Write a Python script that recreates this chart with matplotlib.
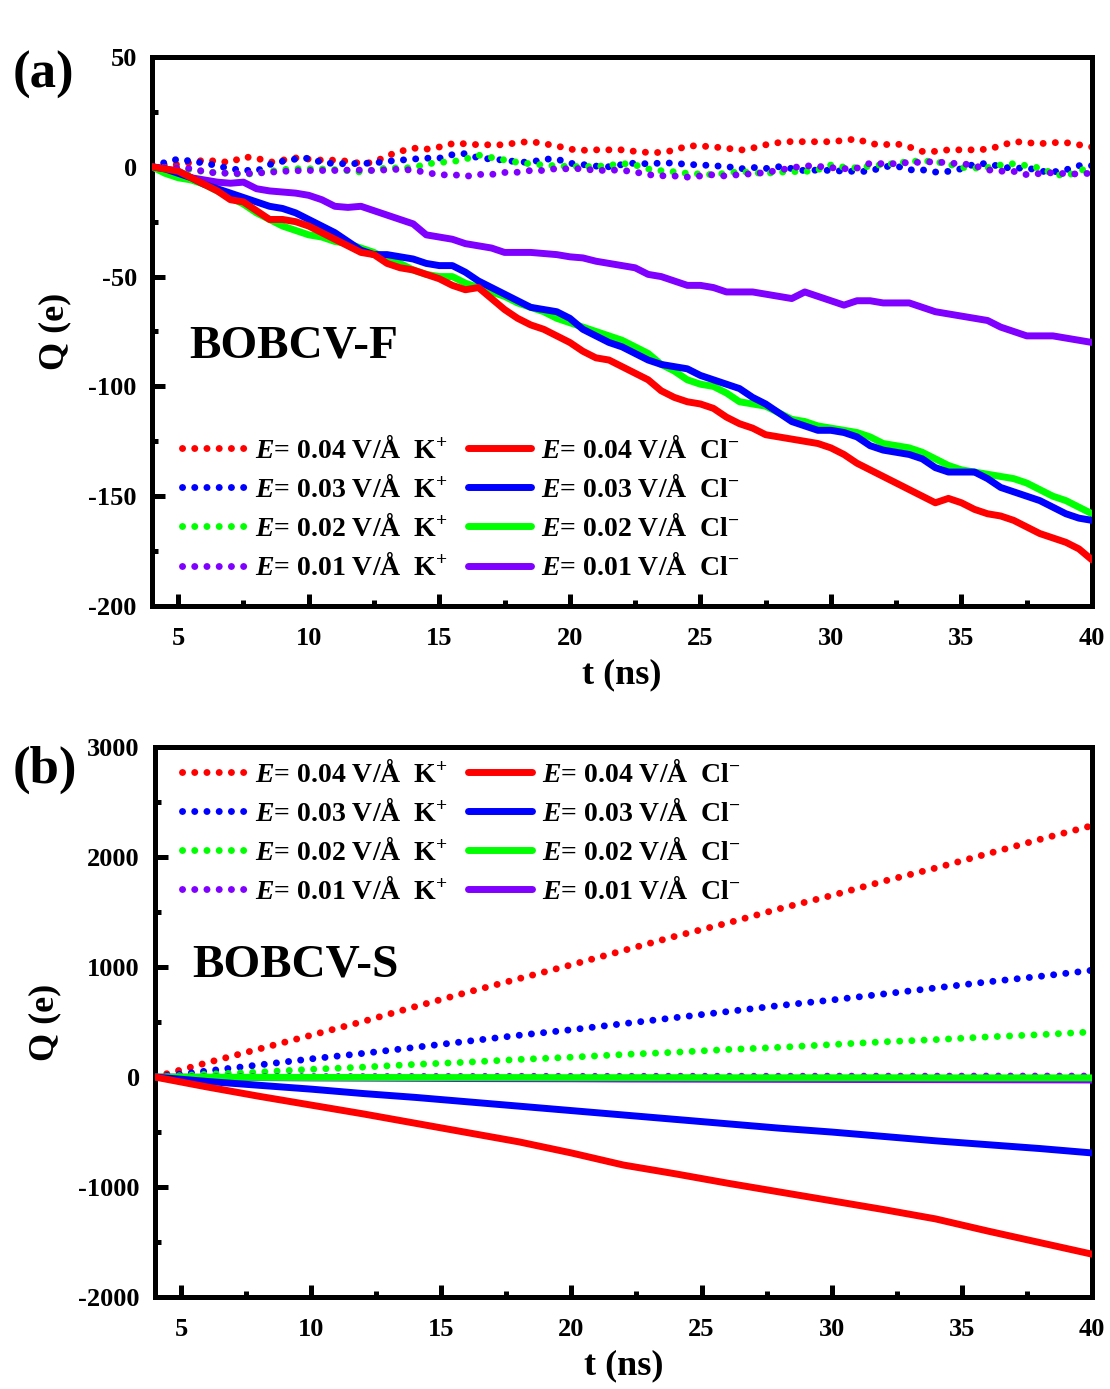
import numpy as np
import matplotlib
matplotlib.use("Agg")
import matplotlib.pyplot as plt
from matplotlib.ticker import MultipleLocator

plt.rcParams['font.family'] = 'Liberation Serif'
plt.rcParams['font.weight'] = 'bold'
plt.rcParams['axes.unicode_minus'] = False
plt.rcParams['mathtext.fontset'] = 'custom'
plt.rcParams['mathtext.rm'] = 'Liberation Serif:bold'
plt.rcParams['mathtext.bf'] = 'Liberation Serif:bold'
plt.rcParams['mathtext.it'] = 'Liberation Serif:italic:bold'

fields = ["0.04", "0.03", "0.02", "0.01"]
colors = ["#ff0000", "#0000ff", "#00ff00", "#8000ff"]

# ---- BOBCV-F : charge vs time, 0.5 ns sampling ----
t_f = np.arange(4.0, 40.01, 0.5)

k_f = {
    "0.04": [0, 1, 1, 2, 3, 2.5, 2, 4.5, 4, 2, 3, 4, 3.5, 3, 3, 2.5, 1.5, 2, 5, 7,
             8.5, 8, 9, 10.5, 10.5, 10, 10, 10, 11, 11.5, 10.5, 9.5, 8, 7.5, 7.7, 7.7, 7.7,
             7, 6.5, 6.5, 7.5, 9.5, 9.5, 9, 8.5, 7.5, 8.5, 10, 11, 11.5, 11.4, 11.4, 11.4,
             12, 12.7, 10.5, 10, 10.5, 9, 7, 7, 7.7, 7.7, 7.7, 8, 9.5, 11.5, 11, 10.5, 11,
             11, 10, 9],
    "0.03": [0, 2, 3.5, 2.5, 1.7, 0.5, -1, -1.5, -2, 1, 2.5, 3.5, 3.9, 2, 1.4, 1.4, 1.5,
             1.7, 2.5, 3, 3.5, 3.9, 3.9, 5.5, 6, 4, 3.5, 3, 2.2, 2, 3.5, 3.5, 1.6, 1, 0.3, 0,
             1, 1.7, 1.3, 1.7, 1.7, 1, 0.9, 0.4, 0.2, -1, -0.3, -0.8, 0, -0.8, -1.8, -1.5,
             -1.7, -2, -2.1, -2.1, 0, 0.4, -1.4, -1.4, -2.4, -2.1, -0.9, 1.2, 1.5, 0, -0.8,
             -0.4, -2, -2.4, -1.4, 0.5, 0.5],
    "0.02": [0, -0.3, -0.6, -1.5, -2.2, -2.7, -3, -3.5, -3, -2.1, -1.3, -0.9, -0.9, -1,
             -1.3, -1.8, -2.4, -1.5, -0.5, -0.6, -0.4, 1.2, 2, 2.3, 3.5, 5.3, 4.2, 3.1, 2,
             1.3, 0.8, 0.4, 0.1, 0.1, 0.1, 0.6, 1.5, 0.8, -1, -1.8, -2.3, -3, -3.3, -3.6,
             -2.9, -2.2, -2.7, -3, -2.5, -2.2, -2.2, -1.3, 0.8, -0.2, -0.5, 0.3, 1, 1.6,
             2.4, 2.7, 2.3, 1.2, -0.3, -0.6, -0.4, 0.8, 1.4, 0.5, -0.6, -3, -4.4, -1.7, -0.6],
    "0.01": [0, -0.3, -0.5, -0.8, -2.2, -2.9, -2.9, -3.2, -2.9, -2.5, -2.1, -1.8, -1.7,
             -1.7, -1.7, -1.5, -1.5, -1.7, -1.4, -1.1, -1.6, -2.5, -3.8, -3.5, -4.4, -3.5,
             -3.5, -2.6, -2.5, -1.7, -1.7, -0.8, -1, -0.8, -1.8, -1.5, -1.6, -2.4, -3.6,
             -4.1, -4.2, -4.7, -4.2, -3.6, -4.3, -3.5, -3.2, -2.6, -1.6, -0.5, 0.45, 0.2,
             -0.4, -0.9, -0.6, 1.6, 1.4, 1.4, 2, 2, 2.4, 1.6, 1.5, 0.5, -1.4, -2, -2.1,
             -3.6, -3.1, -2.7, -3.2, -3.3, -2.9],
}

cl_f = {
    "0.04": [0, -1, -2, -5, -8, -11, -15, -16, -20, -24, -24, -25, -27, -30, -33, -36,
             -39, -40, -44, -46, -47, -49, -51, -54, -56, -55, -60, -65, -69, -72, -74,
             -77, -80, -84, -87, -88, -91, -94, -97, -102, -105, -107, -108, -110, -114,
             -117, -119, -122, -123, -124, -125, -126, -128, -131, -135, -138, -141, -144,
             -147, -150, -153, -151, -153, -156, -158, -159, -161, -164, -167, -169, -171,
             -174, -179],
    "0.03": [0, -1, -3, -5, -8, -10, -12, -14, -16, -18, -19, -21, -24, -27, -30, -34,
             -38, -40, -40, -41, -42, -44, -45, -45, -48, -52, -55, -58, -61, -64, -65,
             -66, -69, -74, -77, -80, -82, -85, -88, -90, -91, -92, -95, -97, -99, -101,
             -105, -108, -112, -116, -118, -120, -120, -121, -123, -127, -129, -130, -131,
             -133, -137, -139, -139, -139, -142, -146, -148, -150, -152, -155, -158, -160,
             -161],
    "0.02": [0, -3, -5, -6, -8, -11, -14, -17, -21, -24, -27, -29, -31, -32, -34, -35,
             -37, -39, -42, -44, -47, -49, -50, -50, -53, -55, -57, -59, -62, -64, -66,
             -69, -71, -73, -75, -77, -79, -82, -85, -90, -93, -97, -99, -100, -103, -107,
             -108, -109, -112, -115, -116, -118, -119, -120, -121, -123, -126, -127, -128,
             -130, -133, -136, -138, -139, -140, -141, -142, -144, -147, -150, -152, -155,
             -158],
    "0.01": [0, -1, -2, -5, -6, -7, -7.5, -7, -10, -11, -11.5, -12, -13, -15, -18, -18.5,
             -18, -20, -22, -24, -26, -31, -32, -33, -35, -36, -37, -39, -39, -39, -39.5,
             -40, -41, -41.5, -43, -44, -45, -46, -49, -50, -52, -54, -54, -55, -57, -57,
             -57, -58, -59, -60, -57, -59, -61, -63, -61, -61, -62, -62, -62, -64, -66,
             -67, -68, -69, -70, -73, -75, -77, -77, -77, -78, -79, -80],
}

# ---- BOBCV-S : charge vs time, 2 ns sampling ----
t_s = np.arange(4.0, 40.01, 2.0)

k_s = {
    "0.04": [0, 130, 255, 380, 505, 640, 770, 895, 1020, 1150, 1280, 1400, 1530, 1650,
             1780, 1900, 2030, 2160, 2285],
    "0.03": [0, 55, 110, 165, 215, 270, 325, 380, 430, 485, 540, 595, 650, 700, 755,
             810, 865, 915, 970],
    "0.02": [0, 25, 45, 70, 90, 115, 135, 160, 180, 205, 225, 250, 270, 295, 320, 340,
             365, 385, 410],
    "0.01": [0, 2, 3, 4, 4, 5, 5, 6, 6, 6, 7, 7, 7, 8, 8, 8, 9, 9, 9],
}

cl_s = {
    "0.04": [0, -90, -175, -255, -335, -420, -505, -590, -690, -800, -880, -965, -1045,
             -1125, -1205, -1290, -1400, -1505, -1610],
    "0.03": [0, -40, -75, -110, -150, -185, -225, -265, -305, -345, -385, -425, -465,
             -500, -540, -580, -615, -650, -690],
    "0.02": [0, -2, -3, -4, -4, -5, -5, -5, -6, -6, -6, -7, -7, -7, -7, -8, -8, -8, -8],
    "0.01": [0, -3, -5, -8, -10, -12, -14, -15, -16, -18, -19, -20, -21, -22, -23, -24,
             -25, -26, -27],
}

DOT = (0, (0.01, 1.75))
LW = 5


def draw_panel(ax, t, k_data, cl_data):
    k_lines, cl_lines = [], []
    for i, (f, c) in enumerate(zip(fields, colors)):
        ln, = ax.plot(t, k_data[f], color=c, lw=LW, linestyle=DOT,
                      dash_capstyle='round', zorder=2 + i * 0.1,
                      label=r"$\mathit{E}$= " + f + r" V/Å  K$^{+}$")
        k_lines.append(ln)
    for i, (f, c) in enumerate(zip(fields, colors)):
        ln, = ax.plot(t, cl_data[f], color=c, lw=LW, solid_capstyle='round',
                      zorder=4 - i * 0.1,
                      label=r"$\mathit{E}$= " + f + r" V/Å  Cl$^{-}$")
        cl_lines.append(ln)
    return k_lines + cl_lines


def style_axes(ax, ymin, ymax, ymaj, ymin_step):
    ax.set_xlim(4, 40)
    ax.set_ylim(ymin, ymax)
    ax.xaxis.set_major_locator(MultipleLocator(5))
    ax.xaxis.set_minor_locator(MultipleLocator(2.5))
    ax.yaxis.set_major_locator(MultipleLocator(ymaj))
    ax.yaxis.set_minor_locator(MultipleLocator(ymin_step))
    ax.tick_params(which='both', direction='in', top=False, right=False,
                   labelsize=19)
    ax.tick_params(axis='x', pad=15)
    ax.tick_params(axis='y', pad=11)
    ax.tick_params(which='major', length=9, width=3.6)
    ax.tick_params(which='minor', length=4.5, width=3.6)
    for sp in ax.spines.values():
        sp.set_linewidth(3.6)
    ax.set_xlabel("t (ns)", fontsize=26, fontweight='bold', labelpad=6)
    ax.set_ylabel("Q (e)", fontsize=26, fontweight='bold', labelpad=12)


def add_legend(ax, handles, anchor):
    ax.legend(handles=handles, ncol=2, frameon=False, fontsize=20, loc='upper left',
              bbox_to_anchor=anchor, borderaxespad=0, handlelength=2.27,
              handletextpad=0.36, columnspacing=0.75, labelspacing=0.4)


fig = plt.figure(figsize=(11.1, 13.89), dpi=100)

ax1 = fig.add_axes([0.137, 0.5637, 0.8468, 0.3953])
h1 = draw_panel(ax1, t_f, k_f, cl_f)
style_axes(ax1, -200, 50, 50, 25)
add_legend(ax1, h1, (0.02, 0.33))
ax1.text(0.04, 0.452, "BOBCV-F", transform=ax1.transAxes, fontsize=34,
         fontweight='bold', ha='left', va='baseline')

ax2 = fig.add_axes([0.1396, 0.0662, 0.8441, 0.396])
h2 = draw_panel(ax2, t_s, k_s, cl_s)
style_axes(ax2, -2000, 3000, 1000, 500)
add_legend(ax2, h2, (0.017, 0.997))
ax2.text(0.04, 0.582, "BOBCV-S", transform=ax2.transAxes, fontsize=34,
         fontweight='bold', ha='left', va='baseline')

fig.text(0.011, 0.946, "(a)", fontsize=38, fontweight='bold', ha='left', va='center')
fig.text(0.011, 0.4457, "(b)", fontsize=38, fontweight='bold', ha='left', va='center')

fig.savefig("out.png", dpi=100, facecolor='white')
